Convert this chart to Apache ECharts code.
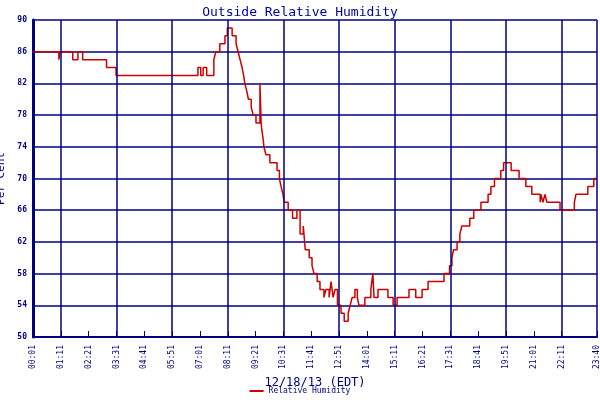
<!DOCTYPE html>
<html><head><meta charset="utf-8">
<script src="https://cdn.jsdelivr.net/npm/echarts@6/dist/echarts.min.js"></script>
<style>html,body{margin:0;padding:0;background:#fff}#c{width:600px;height:400px}</style>
</head><body><div id="c"></div>
<script>
// minutes since midnight where a reading starts, and the humidity (%)
const minutes = [1,66,69,101,114,126,186,210,416,423,429,438,456,461,471,484,490,502,512,517,522,527,531,534,539,543,550,555,562,572,575,577,580,582,587,597,615,621,625,630,633,643,654,665,673,681,686,696,703,708,716,723,733,738,746,751,756,761,767,776,784,794,799,804,811,817,821,836,851,856,859,869,894,907,917,947,964,980,995,1035,1049,1055,1059,1068,1075,1080,1100,1110,1128,1146,1153,1162,1178,1185,1204,1224,1241,1256,1277,1279,1284,1289,1294,1327,1363,1367,1397,1412,1420];
const humidity = [86,85,86,85,86,85,84,83,84,83,84,83,85,86,87,88,89,88,87,86,85,84,83,82,81,80,79,78,77,82,77,76,75,74,73,72,71,70,69,68,67,66,65,66,63,64,61,60,59,58,57,56,55,56,55,57,55,56,54,53,52,53,54,55,56,55,54,55,56,58,55,56,55,54,55,56,55,56,57,58,59,60,61,62,63,64,65,66,67,68,69,70,71,72,71,70,69,68,67,68,67,68,67,66,67,68,69,70,70];
const gridMinutes = [71,211,351,491,631,771,911,1051,1191,1331];
const yTicks = [50,54,58,62,66,70,74,78,82,86,90];

function fmt(m){const h=Math.floor(m/60),mm=m%60;return String(h).padStart(2,'0')+':'+String(mm).padStart(2,'0');}
const navy='#000080', font='DejaVu Sans Mono';
const chart=echarts.init(document.getElementById('c'));
chart.setOption({
  animation:false,
  title:{text:'Outside Relative Humidity',left:'center',top:1,textStyle:{fontFamily:font,fontSize:13,fontWeight:'normal',color:'#0000a0'}},
  legend:{bottom:0,left:'center',itemWidth:14,itemHeight:2,icon:'rect',textStyle:{fontFamily:font,fontSize:8,color:navy},data:['Relative Humidity']},
  grid:{left:33,right:3,top:20,bottom:63,containLabel:false,outerBoundsMode:'none'},
  xAxis:{type:'value',min:1,max:1420,interval:70,name:'12/18/13 (EDT)',nameLocation:'middle',nameGap:40,
    nameTextStyle:{fontFamily:font,fontSize:12,color:navy},
    axisLine:{lineStyle:{color:navy,width:2}},axisTick:{inside:true,length:6,lineStyle:{color:navy}},
    splitLine:{show:false},
    axisLabel:{rotate:90,fontFamily:font,fontSize:8,color:navy,showMaxLabel:true,formatter:v=>fmt(v)}},
  yAxis:{type:'value',min:50,max:90,interval:4,name:'Per Cent',nameLocation:'middle',nameGap:24,
    nameTextStyle:{fontFamily:font,fontSize:11,color:navy},
    axisLine:{show:true,lineStyle:{color:navy,width:3}},axisTick:{show:false},
    splitLine:{lineStyle:{color:navy,width:1.5}},
    axisLabel:{fontFamily:font,fontSize:8,fontWeight:'bold',color:navy,margin:6,formatter:v=>yTicks.includes(v)?String(v):''}},
  series:[{name:'Relative Humidity',type:'line',step:'end',symbol:'none',
    lineStyle:{color:'#cc0000',width:1.5},itemStyle:{color:'#cc0000'},
    data:minutes.map((m,i)=>[m,humidity[i]]),
    markLine:{silent:true,symbol:'none',label:{show:false},lineStyle:{color:navy,width:1.5,type:'solid'},
      data:gridMinutes.map(m=>({xAxis:m})).concat([{xAxis:1420}])}}]
});
</script></body></html>
